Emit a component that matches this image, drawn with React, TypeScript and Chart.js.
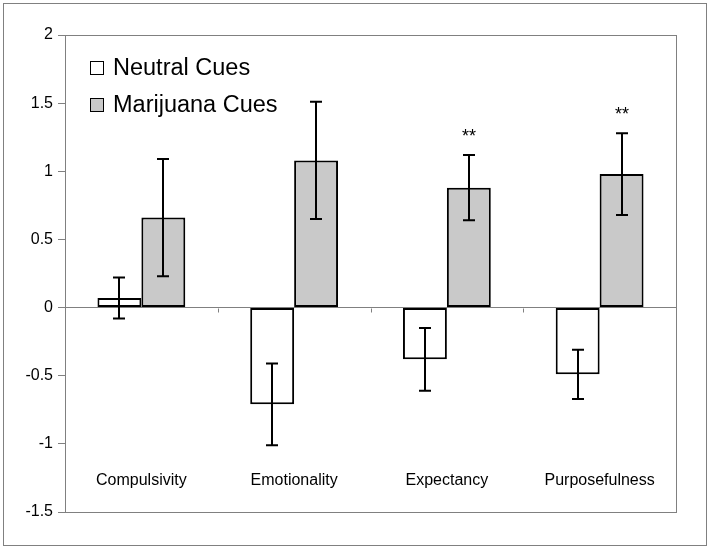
import React, { useEffect, useRef } from "react";
import { Chart, registerables } from "chart.js";

Chart.register(...registerables);

const categories = ["Compulsivity", "Emotionality", "Expectancy", "Purposefulness"];
const neutralValues = [0.07, -0.71, -0.38, -0.49];
const neutralErrors = [0.15, 0.3, 0.23, 0.18];
const marijuanaValues = [0.66, 1.08, 0.88, 0.98];
const marijuanaErrors = [0.43, 0.43, 0.24, 0.3];
const significance = ["", "", "**", "**"];
const seriesNames = ["Neutral Cues", "Marijuana Cues"];
const yMin = -1.5;
const yMax = 2;
const yStep = 0.5;

const FONT = "'Liberation Sans', Arial, sans-serif";
const GRAY = "#808080";
const FILLS = ["#ffffff", "#c9c9c9"];

const decorPlugin = {
  id: "decor",
  beforeDraw(chart: any) {
    const ctx = chart.ctx;
    ctx.save();
    ctx.fillStyle = "#ffffff";
    ctx.fillRect(0, 0, chart.width, chart.height);
    ctx.strokeStyle = GRAY;
    ctx.lineWidth = 1;
    ctx.strokeRect(3.5, 3.5, chart.width - 7, chart.height - 7);
    const a = chart.chartArea;
    ctx.strokeRect(Math.round(a.left) + 0.5, Math.round(a.top) + 0.5, Math.round(a.right - a.left), Math.round(a.bottom - a.top));
    ctx.restore();
  },
  afterDraw(chart: any) {
    const ctx = chart.ctx;
    const a = chart.chartArea;
    const x = chart.scales.x;
    const y = chart.scales.y;
    ctx.save();
    const y0 = Math.round(y.getPixelForValue(0)) + 0.5;
    ctx.strokeStyle = GRAY;
    ctx.lineWidth = 1;
    for (let i = 1; i < categories.length; i++) {
      const bx = Math.round((x.getPixelForValue(i - 1) + x.getPixelForValue(i)) / 2) + 0.5;
      ctx.beginPath();
      ctx.moveTo(bx, y0);
      ctx.lineTo(bx, y0 + 4);
      ctx.stroke();
    }
    ctx.fillStyle = "#000";
    ctx.font = `16px ${FONT}`;
    ctx.textAlign = "center";
    ctx.textBaseline = "middle";
    categories.forEach((c, i) => {
      ctx.fillText(c, x.getPixelForValue(i), a.bottom - 31);
    });
    const lx = a.left + 25;
    const rows = [a.top + 33, a.top + 70];
    seriesNames.forEach((name, i) => {
      ctx.fillStyle = FILLS[i];
      ctx.fillRect(lx, rows[i] - 7, 14, 14);
      ctx.strokeStyle = "#000";
      ctx.lineWidth = 1;
      ctx.strokeRect(lx + 0.5, rows[i] - 6.5, 13, 13);
      ctx.fillStyle = "#000";
      ctx.font = `23.5px ${FONT}`;
      ctx.textAlign = "left";
      ctx.textBaseline = "middle";
      ctx.fillText(name, lx + 23, rows[i] + 1);
    });
    ctx.restore();
  },
  afterDatasetsDraw(chart: any) {
    const ctx = chart.ctx;
    const y = chart.scales.y;
    const errs = [neutralErrors, marijuanaErrors];
    const vals = [neutralValues, marijuanaValues];
    ctx.save();
    ctx.strokeStyle = "#000";
    ctx.lineWidth = 2;
    [0, 1].forEach((d) => {
      const meta = chart.getDatasetMeta(d);
      meta.data.forEach((el: any, i: number) => {
        const cx = Math.round(el.x);
        const top = y.getPixelForValue(vals[d][i] + errs[d][i]);
        const bot = y.getPixelForValue(vals[d][i] - errs[d][i]);
        ctx.beginPath();
        ctx.moveTo(cx, top);
        ctx.lineTo(cx, bot);
        ctx.moveTo(cx - 6, top);
        ctx.lineTo(cx + 6, top);
        ctx.moveTo(cx - 6, bot);
        ctx.lineTo(cx + 6, bot);
        ctx.stroke();
        if (d === 1 && significance[i]) {
          ctx.fillStyle = "#000";
          ctx.font = `18px ${FONT}`;
          ctx.textAlign = "center";
          ctx.textBaseline = "middle";
          ctx.fillText(significance[i], cx, top - 18);
        }
      });
    });
    ctx.restore();
  },
};

export default function App() {
  const ref = useRef<HTMLCanvasElement>(null);
  useEffect(() => {
    if (!ref.current) return;
    const chart = new Chart(ref.current, {
      type: "bar",
      data: {
        labels: categories,
        datasets: [
          {
            label: seriesNames[0],
            data: neutralValues,
            backgroundColor: FILLS[0],
            borderColor: "#000",
            borderWidth: 2,
            borderSkipped: false,
          },
          {
            label: seriesNames[1],
            data: marijuanaValues,
            backgroundColor: FILLS[1],
            borderColor: "#000",
            borderWidth: 2,
            borderSkipped: false,
          },
        ],
      },
      options: {
        responsive: false,
        animation: false,
        devicePixelRatio: 1,
        datasets: { bar: { barPercentage: 1, categoryPercentage: 0.575 } },
        layout: { padding: { left: 0, right: 34, top: 35, bottom: 37 } },
        plugins: { legend: { display: false }, tooltip: { enabled: false } },
        scales: {
          x: { display: false },
          y: {
            min: yMin,
            max: yMax,
            afterFit: (s: any) => {
              s.width = 65;
            },
            ticks: {
              stepSize: yStep,
              color: "#000",
              padding: 5,
              font: { family: FONT, size: 16 },
              callback: (v: any) => String(v),
            },
            grid: {
              color: (c: any) => (c.tick && c.tick.value === 0 ? GRAY : "rgba(0,0,0,0)"),
              tickColor: GRAY,
              tickLength: 7,
              drawTicks: true,
            },
            border: { display: true, color: GRAY },
          },
        },
      },
      plugins: [decorPlugin],
    });
    return () => chart.destroy();
  }, []);
  return (
    <div style={{ position: "absolute", left: 0, top: 0, width: 710, height: 549 }}>
      <canvas ref={ref} width={710} height={549} />
    </div>
  );
}
